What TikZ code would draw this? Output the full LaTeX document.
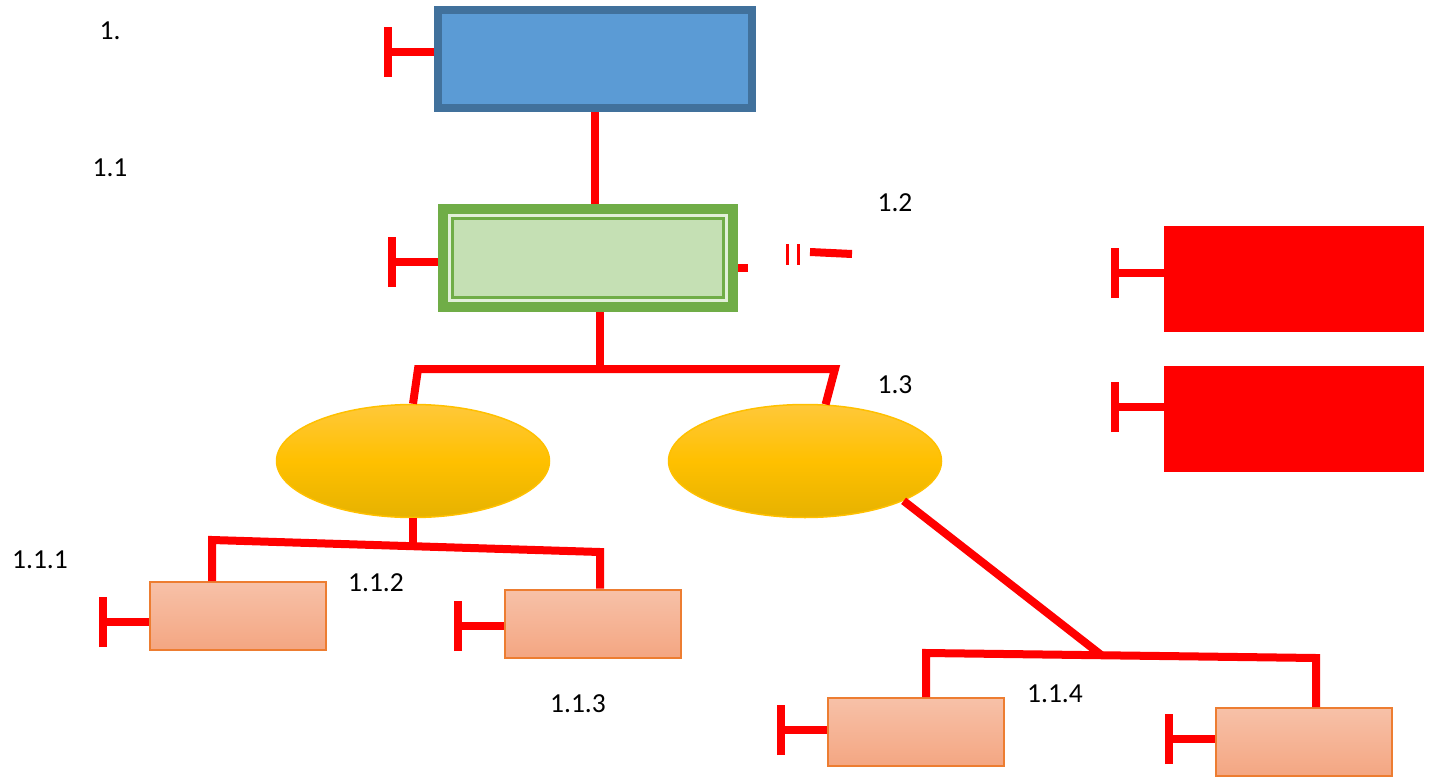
\documentclass[tikz,border=0pt]{standalone}
\usepackage{fontspec}
\setmainfont{Carlito}
\usepackage{xcolor}
\usetikzlibrary{arrows.meta,shapes.geometric,calc}

\definecolor{bluefill}{HTML}{5B9BD5}
\definecolor{blueline}{HTML}{41719C}
\definecolor{greenfill}{HTML}{C5E0B4}
\definecolor{greenline}{HTML}{70AD47}
\definecolor{greenlight}{HTML}{E2F0D9}
\definecolor{ovaltop}{HTML}{FFC83A}
\definecolor{ovalmid}{HTML}{FFC000}
\definecolor{ovalbot}{HTML}{E6B200}
\definecolor{leaftop}{HTML}{F7C1A8}
\definecolor{leafbot}{HTML}{F4A682}
\definecolor{leafline}{HTML}{ED7D31}

\begin{document}
\begin{tikzpicture}[x=1pt,y=-1pt,
  link/.style={draw=red, line width=8pt},
  tee/.style={link, -{Bar[width=50pt]}},
  leaf/.style={draw=leafline, line width=2pt, top color=leaftop, bottom color=leafbot,
    minimum width=176pt, minimum height=68pt, inner sep=0pt},
  oval/.style={ellipse, draw=ovalmid, line width=1.5pt, top color=ovaltop,
    bottom color=ovalbot, middle color=ovalmid, minimum width=273pt,
    minimum height=113pt, inner sep=0pt},
  redbox/.style={fill=red, minimum width=260pt, minimum height=106pt, inner sep=0pt},
  lbl/.style={font=\fontsize{27.5}{32}\selectfont, inner sep=0pt}]
\useasboundingbox (0,0) rectangle (1434,778);
% блоки
\node [draw=blueline, fill=bluefill, line width=8pt, minimum width=314pt,
  minimum height=98pt] (bbox) at (595,59) {};
\node [draw=greenline, fill=greenfill, line width=10pt, minimum width=290pt,
  minimum height=98pt] (gbox) at (588,258) {};
\draw [greenlight, line width=3pt] ($(gbox.north west)+(11.5,11.5)$) rectangle ($(gbox.south east)+(-11.5,-11.5)$);
\draw [greenline, line width=3pt] ($(gbox.north west)+(14.5,14.5)$) rectangle ($(gbox.south east)+(-14.5,-14.5)$);
\node [oval] (e1) at (413,461) {};
\node [oval] (e2) at (805,461) {};
\node [leaf] (b1) at (238,616) {};
\node [leaf] (b2) at (593,623.5) {};
\node [leaf] (b3) at (915.5,732) {};
\node [leaf] (b4) at (1304,742) {};
\node [redbox] (r1) at (1294,279) {};
\node [redbox] (r2) at (1294,419) {};
% связи
\coordinate (fork) at (600,369);
\coordinate (fl) at (418,369);
\coordinate (fr) at (835,369);
\coordinate (al) at (212,540);
\coordinate (ar) at (600,552);
\coordinate (cl) at (926,653);
\coordinate (cr) at (1316,658);
\draw [link] (bbox.south) -- (bbox.south |- gbox.north);
\draw [link] (gbox.south -| fork) -- (fork);
\draw [link] (e1.north) -- (fl) -- (fr) -- (e2.70);
\draw [link] (e1.south) -- (e1.south |- 0,547);
\draw [link] (b1.north -| al) -- (al) -- (ar) -- (b2.north -| ar);
\draw [link] (e2.-22) -- ($(cl)!0.45!(cr)$);
\draw [link] (b3.north -| cl) -- (cl) -- (cr) -- (b4.north -| cr);
% обрыв справа
\draw [link] ([yshift=-10pt]gbox.east) -- ++(10,0);
\draw [red, line width=3pt] (787,244) -- (787,265) (798,244) -- (798,265);
\draw [link] (810,252) -- (852,254);
% ограничители
\draw [tee] ([yshift=7pt]bbox.west) -- ++(-50,0);
\draw [tee] ([yshift=-4pt]gbox.west) -- ++(-50,0);
\draw [tee] ([yshift=-6pt]b1.west) -- ++(-50,0);
\draw [tee] ([yshift=-2.5pt]b2.west) -- ++(-50,0);
\draw [tee] ([yshift=2pt]b3.west) -- ++(-50,0);
\draw [tee] ([yshift=3pt]b4.west) -- ++(-50,0);
\draw [tee] ([yshift=6pt]r1.west) -- ++(-53,0);
\draw [tee] ([yshift=12pt]r2.west) -- ++(-53,0);
% подписи
\node [lbl] (t1) at (110,31) {1.};
\node [lbl] (t11) at (110,168) {1.1};
\node [lbl] (t12) at (895,203) {1.2};
\node [lbl] (t13) at (895,385) {1.3};
\node [lbl] (t111) at (40,560) {1.1.1};
\node [lbl] (t112) at (376,583) {1.1.2};
\node [lbl] (t113) at (578,704) {1.1.3};
\node [lbl] (t114) at (1055,694) {1.1.4};
\end{tikzpicture}
\end{document}
